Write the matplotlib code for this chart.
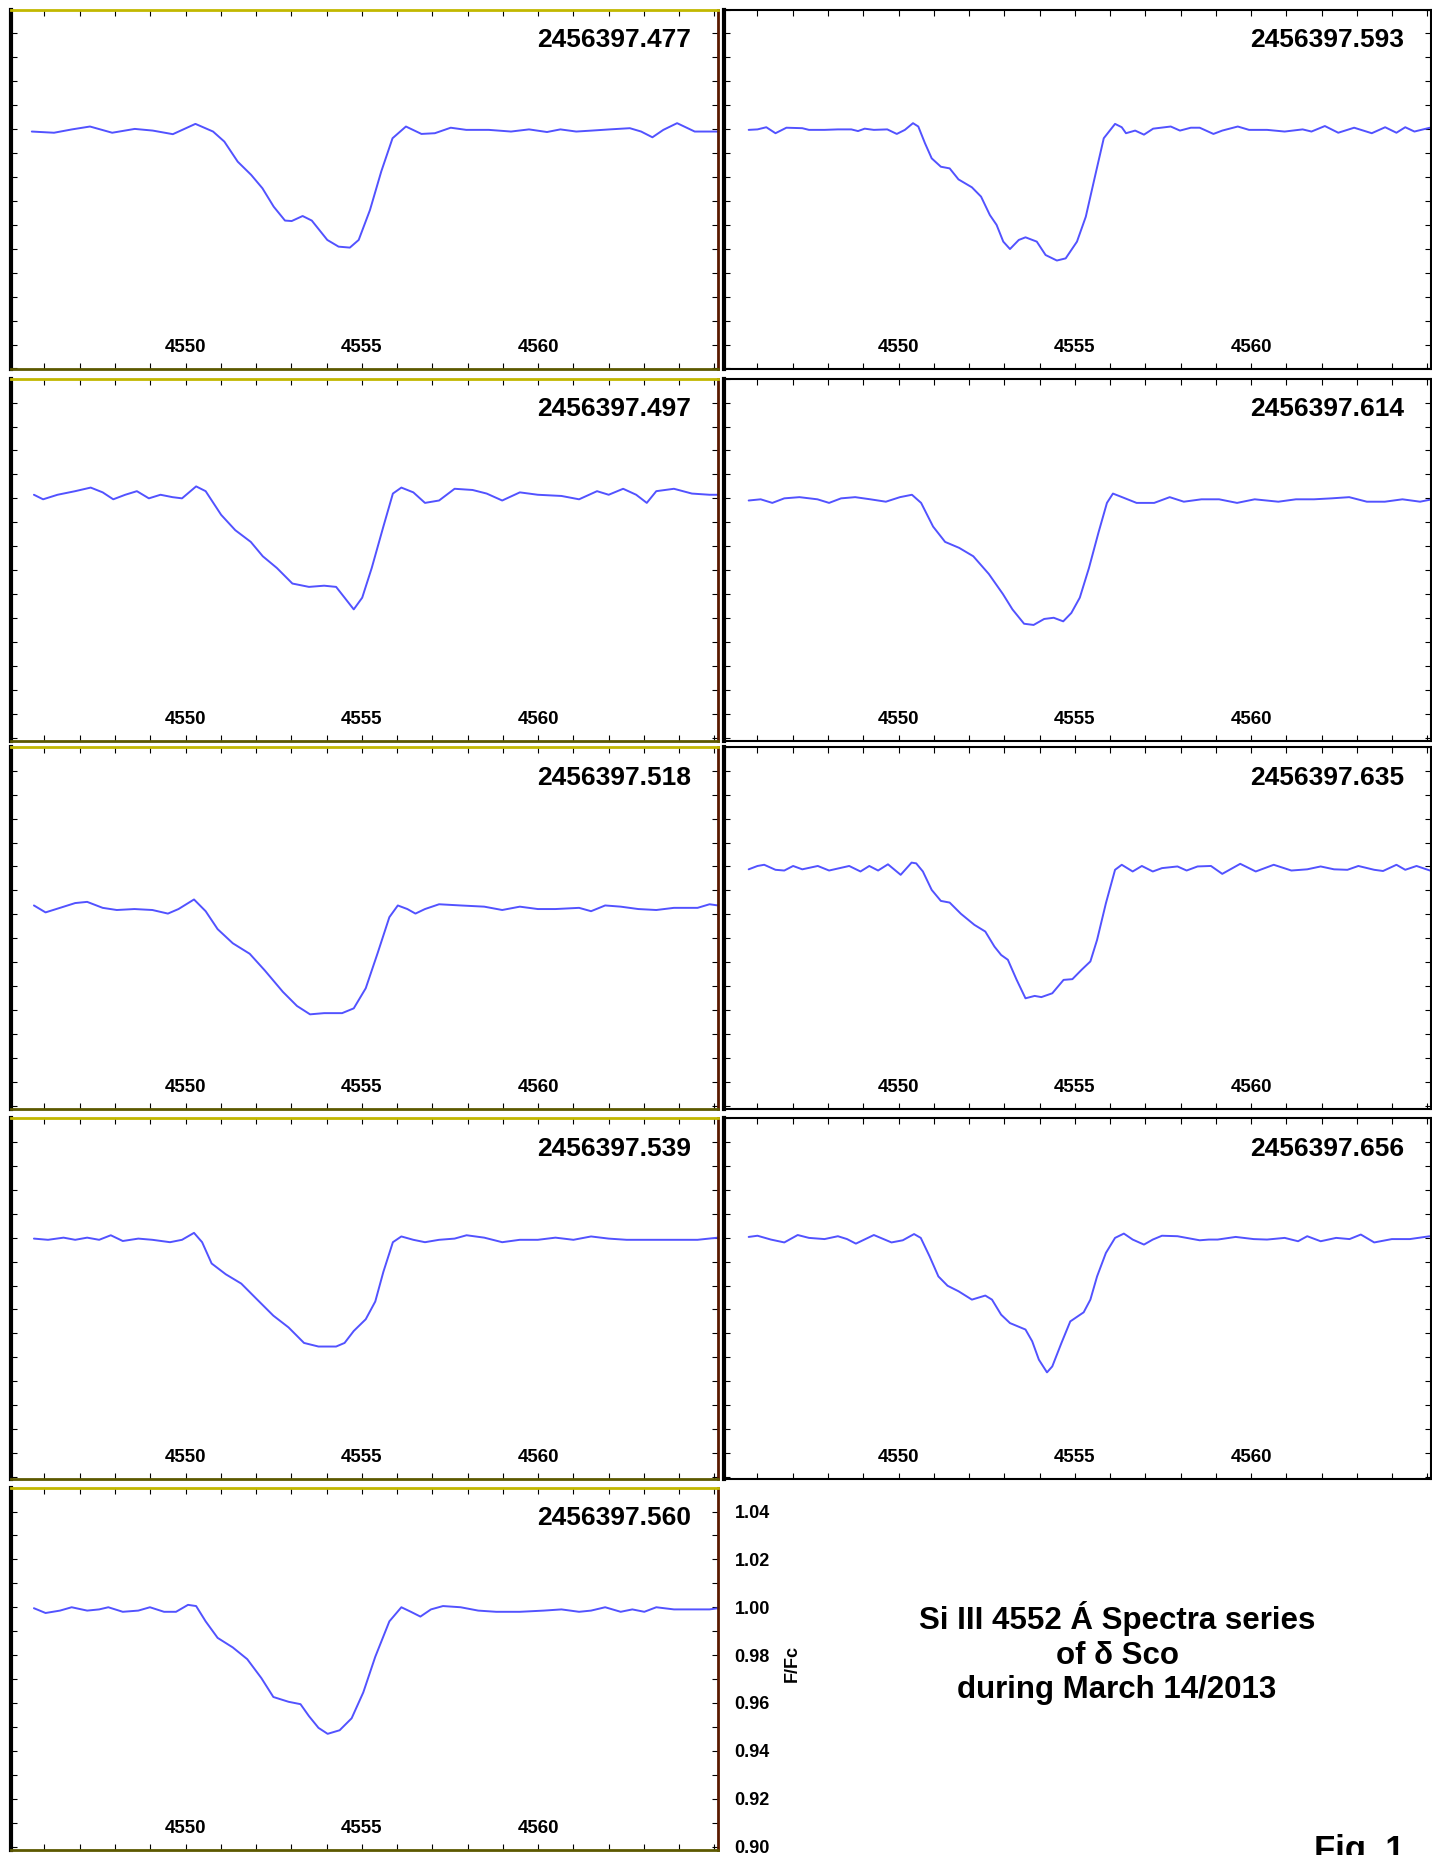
import matplotlib
matplotlib.use("Agg")
import matplotlib.pyplot as plt
from matplotlib.ticker import MultipleLocator

plt.rcParams['font.family'] = ['Liberation Sans', 'DejaVu Sans']
plt.rcParams['font.weight'] = 'bold'

# Si III 4552 line profiles, delta Sco, JD 2456397.xxx
jd_labels = ['2456397.477', '2456397.497', '2456397.518', '2456397.539',
             '2456397.560', '2456397.593', '2456397.614', '2456397.635',
             '2456397.656']

wl_477 = [4545.64, 4546.27, 4546.78, 4547.29, 4547.92, 4548.56, 4549.07, 4549.64,
          4550.28, 4550.78, 4551.10, 4551.48, 4551.86, 4552.18, 4552.50, 4552.82,
          4553.01, 4553.32, 4553.58, 4554.02, 4554.34, 4554.66, 4554.91, 4555.23,
          4555.55, 4555.87, 4556.25, 4556.69, 4557.07, 4557.52, 4557.96, 4558.60,
          4559.23, 4559.74, 4560.25, 4560.63, 4561.08, 4561.52, 4562.03, 4562.60,
          4562.92, 4563.24, 4563.55, 4563.94, 4564.44, 4565.14]
fx_477 = [0.9990, 0.9985, 0.9999, 1.0011, 0.9985, 1.0001, 0.9994, 0.9979,
          1.0022, 0.9990, 0.9948, 0.9864, 0.9809, 0.9753, 0.9676, 0.9618,
          0.9616, 0.9637, 0.9618, 0.9537, 0.9509, 0.9505, 0.9537, 0.9662,
          0.9823, 0.9962, 1.0011, 0.9980, 0.9983, 1.0006, 0.9997, 0.9997,
          0.9990, 0.9999, 0.9988, 0.9999, 0.9990, 0.9994, 0.9999, 1.0004,
          0.9990, 0.9966, 0.9997, 1.0025, 0.9990, 0.9990]

wl_497 = [4545.70, 4545.96, 4546.37, 4546.87, 4547.31, 4547.65, 4547.95, 4548.29,
          4548.62, 4548.96, 4549.29, 4549.63, 4549.90, 4550.30, 4550.57, 4551.01,
          4551.41, 4551.85, 4552.19, 4552.59, 4553.03, 4553.50, 4553.93, 4554.27,
          4554.51, 4554.77, 4555.01, 4555.28, 4555.61, 4555.88, 4556.12, 4556.46,
          4556.79, 4557.19, 4557.63, 4558.14, 4558.54, 4558.98, 4559.48, 4559.99,
          4560.66, 4561.16, 4561.67, 4562.00, 4562.41, 4562.78, 4563.08, 4563.35,
          4563.85, 4564.36, 4564.86, 4565.10]
fx_497 = [1.0015, 0.9996, 1.0015, 1.0030, 1.0045, 1.0025, 0.9996, 1.0015,
          1.0030, 1.0000, 1.0015, 1.0005, 1.0000, 1.0050, 1.0030, 0.9931,
          0.9867, 0.9818, 0.9758, 0.9709, 0.9644, 0.9630, 0.9635, 0.9630,
          0.9585, 0.9536, 0.9585, 0.9709, 0.9882, 1.0020, 1.0045, 1.0025,
          0.9981, 0.9991, 1.0040, 1.0035, 1.0020, 0.9991, 1.0025, 1.0015,
          1.0010, 0.9996, 1.0030, 1.0015, 1.0040, 1.0015, 0.9981, 1.0030,
          1.0040, 1.0020, 1.0015, 1.0015]

wl_518 = [4545.70, 4546.03, 4546.44, 4546.87, 4547.21, 4547.65, 4548.05, 4548.55,
          4549.06, 4549.50, 4549.80, 4550.24, 4550.57, 4550.91, 4551.34, 4551.82,
          4552.25, 4552.76, 4553.16, 4553.53, 4553.93, 4554.44, 4554.77, 4555.11,
          4555.45, 4555.78, 4556.02, 4556.29, 4556.52, 4556.79, 4557.19, 4557.80,
          4558.47, 4558.98, 4559.48, 4559.99, 4560.49, 4561.16, 4561.50, 4561.90,
          4562.34, 4562.84, 4563.35, 4563.85, 4564.52, 4564.86, 4565.10]
fx_518 = [0.9837, 0.9808, 0.9827, 0.9847, 0.9852, 0.9827, 0.9818, 0.9822,
          0.9818, 0.9803, 0.9822, 0.9862, 0.9813, 0.9738, 0.9679, 0.9635,
          0.9565, 0.9476, 0.9417, 0.9382, 0.9387, 0.9387, 0.9407, 0.9491,
          0.9639, 0.9788, 0.9837, 0.9822, 0.9803, 0.9822, 0.9842, 0.9837,
          0.9832, 0.9818, 0.9832, 0.9822, 0.9822, 0.9827, 0.9813, 0.9837,
          0.9832, 0.9822, 0.9818, 0.9827, 0.9827, 0.9842, 0.9837]

wl_539 = [4545.70, 4546.10, 4546.54, 4546.87, 4547.21, 4547.55, 4547.88, 4548.22,
          4548.66, 4549.06, 4549.56, 4549.90, 4550.24, 4550.47, 4550.74, 4551.14,
          4551.58, 4552.02, 4552.49, 4552.92, 4553.36, 4553.77, 4554.27, 4554.51,
          4554.77, 4555.11, 4555.38, 4555.61, 4555.88, 4556.12, 4556.46, 4556.79,
          4557.19, 4557.63, 4557.97, 4558.47, 4558.98, 4559.48, 4559.99, 4560.49,
          4561.00, 4561.50, 4562.00, 4562.51, 4563.18, 4563.85, 4564.52, 4565.10]
fx_539 = [0.9996, 0.9991, 1.0000, 0.9991, 1.0000, 0.9991, 1.0010, 0.9986,
          0.9996, 0.9991, 0.9981, 0.9991, 1.0020, 0.9981, 0.9892, 0.9847,
          0.9808, 0.9743, 0.9674, 0.9625, 0.9560, 0.9545, 0.9545, 0.9560,
          0.9610, 0.9659, 0.9733, 0.9857, 0.9981, 1.0005, 0.9991, 0.9981,
          0.9991, 0.9996, 1.0010, 1.0000, 0.9981, 0.9991, 0.9991, 1.0000,
          0.9991, 1.0005, 0.9996, 0.9991, 0.9991, 0.9991, 0.9991, 1.0000]

wl_560 = [4545.70, 4546.03, 4546.44, 4546.77, 4547.21, 4547.55, 4547.81, 4548.22,
          4548.66, 4548.99, 4549.39, 4549.73, 4550.07, 4550.30, 4550.57, 4550.91,
          4551.34, 4551.75, 4552.15, 4552.49, 4552.92, 4553.26, 4553.50, 4553.77,
          4554.03, 4554.37, 4554.71, 4555.04, 4555.38, 4555.78, 4556.12, 4556.39,
          4556.66, 4556.96, 4557.30, 4557.80, 4558.30, 4558.81, 4559.48, 4560.16,
          4560.66, 4561.16, 4561.50, 4561.90, 4562.34, 4562.67, 4563.01, 4563.35,
          4563.85, 4564.36, 4564.86, 4565.10]
fx_560 = [0.9996, 0.9976, 0.9986, 1.0000, 0.9986, 0.9991, 1.0000, 0.9981,
          0.9986, 1.0000, 0.9981, 0.9981, 1.0010, 1.0005, 0.9941, 0.9872,
          0.9832, 0.9783, 0.9704, 0.9625, 0.9605, 0.9595, 0.9545, 0.9496,
          0.9471, 0.9486, 0.9536, 0.9644, 0.9793, 0.9941, 1.0000, 0.9981,
          0.9961, 0.9991, 1.0005, 1.0000, 0.9986, 0.9981, 0.9981, 0.9986,
          0.9991, 0.9981, 0.9986, 1.0000, 0.9981, 0.9991, 0.9981, 1.0000,
          0.9991, 0.9991, 0.9991, 0.9996]

wl_593 = [4545.75, 4546.00, 4546.25, 4546.51, 4546.82, 4547.27, 4547.46, 4547.90,
          4548.28, 4548.66, 4548.85, 4549.04, 4549.30, 4549.68, 4549.95, 4550.18,
          4550.41, 4550.56, 4550.75, 4550.94, 4551.20, 4551.45, 4551.70, 4552.08,
          4552.34, 4552.59, 4552.78, 4552.97, 4553.16, 4553.41, 4553.60, 4553.92,
          4554.17, 4554.49, 4554.74, 4555.06, 4555.31, 4555.57, 4555.82, 4556.14,
          4556.33, 4556.45, 4556.71, 4556.96, 4557.22, 4557.72, 4557.98, 4558.29,
          4558.54, 4558.93, 4559.18, 4559.62, 4559.94, 4560.45, 4560.95, 4561.46,
          4561.71, 4562.09, 4562.47, 4562.92, 4563.42, 4563.80, 4564.12, 4564.37,
          4564.63, 4565.07]
fx_593 = [0.9997, 0.9999, 1.0008, 0.9983, 1.0006, 1.0004, 0.9997, 0.9997,
          0.9999, 0.9999, 0.9992, 1.0002, 0.9997, 0.9999, 0.9980, 0.9997,
          1.0025, 1.0011, 0.9941, 0.9878, 0.9843, 0.9836, 0.9790, 0.9757,
          0.9718, 0.9641, 0.9600, 0.9530, 0.9499, 0.9537, 0.9548, 0.9530,
          0.9474, 0.9451, 0.9460, 0.9530, 0.9634, 0.9802, 0.9962, 1.0022,
          1.0008, 0.9983, 0.9994, 0.9977, 1.0002, 1.0011, 0.9994, 1.0006,
          1.0006, 0.9980, 0.9994, 1.0011, 0.9997, 0.9997, 0.9990, 0.9999,
          0.9990, 1.0013, 0.9985, 1.0006, 0.9983, 1.0008, 0.9985, 1.0008,
          0.9990, 1.0006]

wl_614 = [4545.75, 4546.09, 4546.42, 4546.76, 4547.19, 4547.70, 4548.03, 4548.37,
          4548.77, 4549.20, 4549.64, 4550.04, 4550.38, 4550.64, 4550.98, 4551.32,
          4551.72, 4552.12, 4552.56, 4552.96, 4553.23, 4553.56, 4553.83, 4554.13,
          4554.40, 4554.67, 4554.90, 4555.14, 4555.40, 4555.67, 4555.91, 4556.08,
          4556.34, 4556.75, 4557.25, 4557.69, 4558.09, 4558.59, 4559.09, 4559.60,
          4560.10, 4560.77, 4561.27, 4561.78, 4562.28, 4562.78, 4563.28, 4563.79,
          4564.29, 4564.79, 4565.13]
fx_614 = [0.9991, 0.9996, 0.9981, 1.0000, 1.0005, 0.9996, 0.9981, 1.0000,
          1.0005, 0.9996, 0.9986, 1.0005, 1.0015, 0.9981, 0.9882, 0.9818,
          0.9793, 0.9758, 0.9684, 0.9600, 0.9536, 0.9476, 0.9471, 0.9496,
          0.9501, 0.9486, 0.9521, 0.9585, 0.9709, 0.9857, 0.9981, 1.0020,
          1.0005, 0.9981, 0.9981, 1.0005, 0.9986, 0.9996, 0.9996, 0.9981,
          0.9996, 0.9986, 0.9996, 0.9996, 1.0000, 1.0005, 0.9986, 0.9986,
          0.9996, 0.9986, 0.9996]

wl_635 = [4545.75, 4546.00, 4546.19, 4546.51, 4546.76, 4547.01, 4547.27, 4547.71,
          4548.03, 4548.60, 4548.92, 4549.17, 4549.42, 4549.70, 4550.06, 4550.37,
          4550.50, 4550.69, 4550.94, 4551.20, 4551.45, 4551.77, 4552.15, 4552.46,
          4552.72, 4552.91, 4553.10, 4553.35, 4553.60, 4553.86, 4554.05, 4554.36,
          4554.68, 4554.93, 4555.19, 4555.44, 4555.63, 4555.88, 4556.14, 4556.33,
          4556.64, 4556.90, 4557.21, 4557.47, 4557.91, 4558.17, 4558.48, 4558.86,
          4559.18, 4559.69, 4560.13, 4560.64, 4561.14, 4561.59, 4561.97, 4562.35,
          4562.73, 4563.04, 4563.49, 4563.74, 4564.12, 4564.37, 4564.69, 4565.07]
fx_635 = [0.9988, 1.0002, 1.0007, 0.9986, 0.9983, 1.0002, 0.9988, 1.0002,
          0.9983, 1.0002, 0.9979, 1.0002, 0.9983, 1.0009, 0.9965, 1.0016,
          1.0013, 0.9979, 0.9902, 0.9856, 0.9849, 0.9802, 0.9756, 0.9728,
          0.9665, 0.9630, 0.9610, 0.9526, 0.9449, 0.9459, 0.9454, 0.9470,
          0.9526, 0.9529, 0.9568, 0.9603, 0.9693, 0.9846, 0.9986, 1.0007,
          0.9979, 1.0002, 0.9979, 0.9993, 1.0000, 0.9983, 1.0000, 1.0002,
          0.9969, 1.0011, 0.9979, 1.0007, 0.9983, 0.9988, 1.0000, 0.9988,
          0.9986, 1.0002, 0.9986, 0.9981, 1.0007, 0.9986, 1.0002, 0.9983]

wl_656 = [4545.75, 4546.00, 4546.38, 4546.76, 4547.14, 4547.46, 4547.90, 4548.28,
          4548.54, 4548.79, 4549.30, 4549.80, 4550.12, 4550.44, 4550.63, 4550.88,
          4551.13, 4551.39, 4551.70, 4552.08, 4552.46, 4552.65, 4552.91, 4553.16,
          4553.60, 4553.79, 4553.98, 4554.21, 4554.36, 4554.62, 4554.87, 4555.25,
          4555.44, 4555.63, 4555.88, 4556.14, 4556.39, 4556.64, 4556.96, 4557.21,
          4557.47, 4557.91, 4558.54, 4558.80, 4559.05, 4559.56, 4560.07, 4560.45,
          4560.95, 4561.33, 4561.59, 4561.97, 4562.41, 4562.79, 4563.11, 4563.49,
          4563.99, 4564.50, 4565.07]
fx_656 = [1.0003, 1.0008, 0.9992, 0.9980, 1.0011, 0.9999, 0.9994, 1.0006,
          0.9994, 0.9975, 1.0011, 0.9980, 0.9989, 1.0015, 0.9999, 0.9922,
          0.9838, 0.9799, 0.9776, 0.9741, 0.9758, 0.9741, 0.9678, 0.9643,
          0.9616, 0.9567, 0.9490, 0.9437, 0.9462, 0.9560, 0.9650, 0.9688,
          0.9741, 0.9838, 0.9936, 0.9999, 1.0017, 0.9992, 0.9971, 0.9992,
          1.0008, 1.0006, 0.9989, 0.9992, 0.9992, 1.0003, 0.9994, 0.9992,
          0.9999, 0.9985, 1.0006, 0.9985, 0.9999, 0.9994, 1.0013, 0.9980,
          0.9994, 0.9994, 1.0006]

spectra = [(wl_477, fx_477), (wl_497, fx_497), (wl_518, fx_518),
           (wl_539, fx_539), (wl_560, fx_560), (wl_593, fx_593),
           (wl_614, fx_614), (wl_635, fx_635), (wl_656, fx_656)]

# panel grid in pixels: two columns, five rows
W, H = 1432, 1855
col_px = [(11, 718), (724, 1431)]
row_px = [(9.5, 369), (378.7, 741), (746.8, 1109), (1118, 1479), (1487.6, 1850)]
grid = [(0, 0), (0, 1), (0, 2), (0, 3), (0, 4),
        (1, 0), (1, 1), (1, 2), (1, 3)]
px_per_unit = 2393.0  # flux scale shared by all panels

fig = plt.figure(figsize=(W / 100, H / 100), dpi=100)

for (wl, fx), label, (col, row) in zip(spectra, jd_labels, grid):
    x0, x1 = col_px[col]
    y0, y1 = row_px[row]
    ax = fig.add_axes([x0 / W, 1 - y1 / H, (x1 - x0) / W, (y1 - y0) / H])
    ax.plot(wl, fx, color='#5252ff', lw=1.4, solid_joinstyle='round',
            solid_capstyle='round')
    ax.set_xlim(4545.05, 4565.1)
    ax.set_ylim(1.05 - (y1 - y0) / px_per_unit, 1.05)

    ax.set_xticks([4550, 4555, 4560])
    ax.xaxis.set_minor_locator(MultipleLocator(1))
    ax.tick_params(axis='x', which='both', direction='in', top=True, bottom=True,
                   labelsize=13.5, pad=-21.5, length=4, width=0.8)
    ax.yaxis.set_major_locator(MultipleLocator(0.02))
    ax.yaxis.set_minor_locator(MultipleLocator(0.01))
    ax.tick_params(axis='y', which='both', direction='in', left=True, right=True,
                   labelleft=False, length=4, width=0.8)

    ax.text(0.962, 0.915, label, transform=ax.transAxes, ha='right', va='center',
            fontsize=19, fontweight='bold')

    if col == 0:
        ax.spines['left'].set_color('black')
        ax.spines['left'].set_linewidth(3)
        ax.spines['top'].set_color('#c2b800')
        ax.spines['top'].set_linewidth(2)
        ax.spines['bottom'].set_color('#5c5800')
        ax.spines['bottom'].set_linewidth(2)
        ax.spines['right'].set_color('#5a1a00')
        ax.spines['right'].set_linewidth(2)
    else:
        for side in ['top', 'bottom', 'right']:
            ax.spines[side].set_linewidth(1.5)
        ax.spines['left'].set_linewidth(3)

    if row == 4:
        ax.tick_params(axis='y', which='major', labelright=True, labelsize=13, pad=12)
        ax.set_yticks([0.90, 0.92, 0.94, 0.96, 0.98, 1.00, 1.02, 1.04])
        ax.set_yticklabels(['0.90', '0.92', '0.94', '0.96', '0.98', '1.00',
                            '1.02', '1.04'])

fig.text(792 / W, 1 - 1663 / H, 'F/Fc', rotation=90, ha='center', va='center',
         fontsize=13, fontweight='bold')

fig.text(1117 / W, 1 - 1653 / H,
         'Si III 4552 Á Spectra series\nof δ Sco\nduring March 14/2013',
         ha='center', va='center', multialignment='center',
         fontsize=22.5, fontweight='bold')

fig.text(1314 / W, 1 - 1860 / H, 'Fig. 1', ha='left', va='baseline',
         fontsize=25, fontweight='bold')

fig.savefig('out.png', dpi=100)
